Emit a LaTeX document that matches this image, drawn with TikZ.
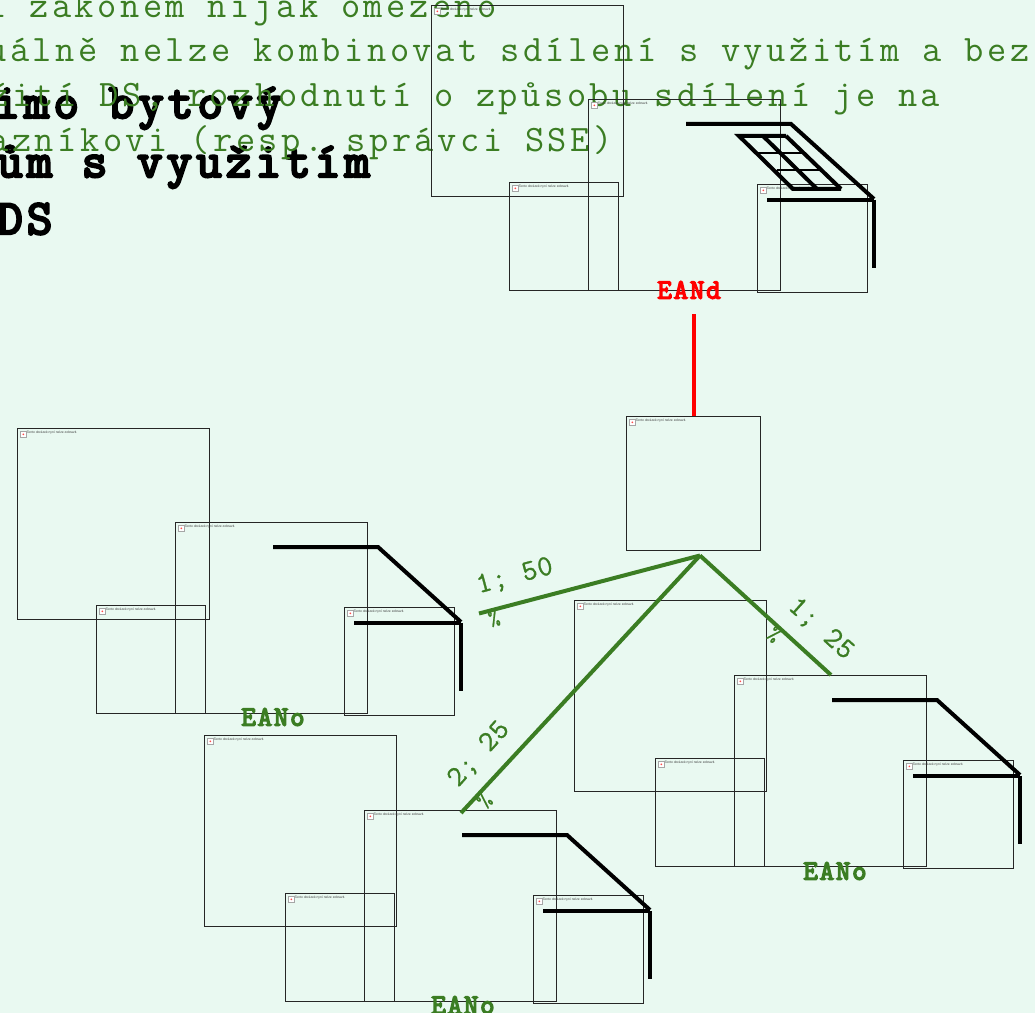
\documentclass[tikz,border=0pt]{standalone}
\usepackage{fontspec}
\setmainfont{Liberation Sans}
\usepackage{tikz}

\definecolor{pagebg}{HTML}{E9F9F1}
\definecolor{eangreen}{HTML}{3B7D23}

\newfontfamily\notefont[LetterSpace=9.5]{Latin Modern Mono}
\newfontfamily\headfont[LetterSpace=8.6,FakeBold=5]{Latin Modern Mono}
\newfontfamily\eanfont[LetterSpace=6.6,FakeBold=5]{Latin Modern Mono}
\newfontfamily\sharefont[LetterSpace=3,FakeBold=1]{Latin Modern Mono}

% placeholder box with its broken-image icon and caption
\newcommand{\imgbox}[5]{
  \node[img box,minimum width=#4*0.75pt,minimum height=#5*0.75pt] (#1) at (#2-0.5,#3) {};
  \node[img icon] (#1i) at ([shift={(2.5,3)}]#1.north west) {};
  \fill[red!70] (#1i.center) circle (0.7pt);
  \node[img text] (#1t) at ([shift={(9,4.5)}]#1.north west) {Tento obrázek nyní nelze zobrazit.};
}
% one house: big box, middle box, two small boxes, roof lines
\newcommand{\imggroup}[5]{
  \imgbox{#1a}{#2}{#3}{191.5}{191.5}
  \imgbox{#1b}{#4}{#5}{191.5}{191.5}
  \imgbox{#1c}{#4-79}{#5+83}{108.5}{108.5}
  \imgbox{#1d}{#4+169}{#5+85}{109.5}{108.5}
  \coordinate (#1r1) at (#4+97,#5+25);
  \coordinate (#1r2) at (#4+202,#5+25);
  \coordinate (#1r3) at (#4+285,#5+100);
  \coordinate (#1r4) at (#4+178,#5+101);
  \coordinate (#1r5) at (#4+285,#5+101);
  \coordinate (#1r6) at (#4+285,#5+169);
  \draw[roof] (#1r1) -- (#1r2) -- (#1r3);
  \draw[roof] (#1r4) -- (#1r5);
  \draw[roof] (#1r5) -- (#1r6);
}

\begin{document}
\begin{tikzpicture}[x=0.75pt,y=-0.75pt,
  img box/.style={draw=black!85,line width=0.6pt,anchor=north west,inner sep=0pt,outer sep=0pt},
  img icon/.style={draw=black!35,fill=white,line width=0.5pt,anchor=north west,inner sep=0pt,minimum size=4.5pt},
  img text/.style={anchor=west,inner sep=0pt,text=black!75,font=\fontsize{2.5}{2.8}\selectfont},
  roof/.style={line width=3pt,black},
  pane/.style={line width=2.2pt,black},
  note/.style={anchor=base west,inner sep=0pt,text=eangreen,font=\notefont\fontsize{28}{32}\selectfont\frenchspacing},
  head/.style={anchor=base west,inner sep=0pt,text=black,font=\headfont\fontsize{37}{40}\selectfont},
  ean/.style={inner sep=0pt,font=\eanfont\fontsize{21}{22}\selectfont},
  share/.style={inner sep=0pt,align=left,text=eangreen,font=\sharefont\fontsize{22}{26}\selectfont},
  feed/.style={line width=3pt,eangreen}]

  \fill[pagebg] (0,0) rectangle (1035,1013);
  \useasboundingbox (0,0) rectangle (1035,1013);
  \clip (0,0) rectangle (1035,1013);

  \node[head] (h1) at (-6,118) {imo bytový};
  \node[head] (h2) at (-3,177) {ům s využitím};
  \node[head] (h3) at (-3,234) {DS};

  \node[note] (n1) at (-13,18) {i zákonem nijak omezeno};
  \node[note] (n2) at (-13,62) {uálně nelze kombinovat sdílení s využitím a bez};
  \node[note] (n3) at (-11,107) {žití DS, rozhodnutí o způsobu sdílení je na};
  \node[note] (n4) at (-11,152) {azníkovi (resp. správci SSE)};

  \imggroup{top}{432}{5}{589}{99}
  \imggroup{left}{18}{428}{176}{522}
  \imggroup{right}{575}{600}{735}{675}
  \imggroup{low}{205}{735}{365}{810}
  \imgbox{meter}{627}{416}{134}{134}

  % window
  \coordinate (w1) at (739,136);
  \coordinate (w2) at (786,136);
  \coordinate (w3) at (841,189);
  \coordinate (w4) at (793,189);
  \coordinate (w5) at (763,136);
  \coordinate (w6) at (817,189);
  \coordinate (w7) at (757,153);
  \coordinate (w8) at (802,153);
  \coordinate (w9) at (777,170);
  \coordinate (w10) at (822,170);
  \draw[roof] (w2) -- (w1) -- (w4) -- (w3);
  \draw[roof] (w2) -- (w3);
  \draw[roof] (w5) -- (w6);
  \draw[pane] (w7) -- (w8);
  \draw[pane] (w9) -- (w10);

  \node[ean,text=red] (eand) at (689,290) {EANd};
  \node[ean,text=eangreen] (eano1) at (273,717) {EANo};
  \node[ean,text=eangreen] (eano2) at (835,871) {EANo};
  \node[ean,text=eangreen] (eano3) at (463,1005) {EANo};

  \coordinate (redtop) at (694,314);
  \draw[line width=3pt,red] (redtop) -- (redtop |- meter.north);

  \coordinate (apex) at (700,555.5);
  \coordinate (endl) at (479,613.5);
  \coordinate (endm) at (461,813);
  \coordinate (endr) at (831,675);
  \draw[feed] (apex) -- (endl);
  \draw[feed] (apex) -- (endm);
  \draw[feed] (apex) -- (endr);

  \node[share,rotate=15] (s1) at (519,592) {1; 50\\\hspace{2pt}{\fontsize{16}{26}\selectfont\%}};
  \node[share,rotate=-42] (s2) at (810,641) {1; 25\\\hspace{2pt}{\fontsize{16}{26}\selectfont\%}};
  \node[share,rotate=48] (s3) at (491,765) {2; 25\\\hspace{2pt}{\fontsize{16}{26}\selectfont\%}};
\end{tikzpicture}
\end{document}
